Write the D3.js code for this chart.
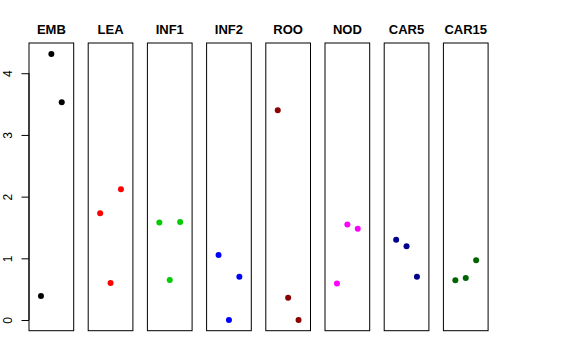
<!DOCTYPE html>
<html><head><meta charset="utf-8">
<script src="https://cdn.jsdelivr.net/npm/d3@7"></script>
<style>body{margin:0;background:#fff}svg{display:block}text{font-family:"Liberation Sans",Arial,sans-serif}</style>
</head><body>
<script>
const categories = ["EMB","LEA","INF1","INF2","ROO","NOD","CAR5","CAR15"];
const colors = ["#000000","#FF0000","#00CD00","#0000FF","#8B0000","#FF00FF","#00008B","#006400"];
const pointIndex = [1,2,3];
const valuesEMB = [0.39, 4.31, 3.53];
const valuesLEA = [1.73, 0.60, 2.12];
const valuesINF1 = [1.58, 0.65, 1.59];
const valuesINF2 = [1.055, 0.0, 0.70];
const valuesROO = [3.40, 0.36, 0.0];
const valuesNOD = [0.59, 1.55, 1.48];
const valuesCAR5 = [1.30, 1.195, 0.70];
const valuesCAR15 = [0.646, 0.68, 0.97];
const yTicks = [0,1,2,3,4];

const series = [valuesEMB,valuesLEA,valuesINF1,valuesINF2,valuesROO,valuesNOD,valuesCAR5,valuesCAR15];

const W = 576, H = 360;
const svg = d3.select("body").append("svg").attr("width",W).attr("height",H);

const x = d3.scaleBand().domain(categories).range([29, 488.1]).paddingInner(0.245).paddingOuter(0);
const y = d3.scaleLinear().domain([-0.173, 4.49]).range([330.7, 43]);
const xi = d3.scaleLinear().domain([-0.15, 4.15]).range([0, x.bandwidth()]);

categories.forEach((c, i) => {
  const g = svg.append("g").attr("transform", `translate(${x(c)},0)`);
  g.selectAll("circle").data(series[i]).join("circle")
    .attr("cx", (d, j) => xi(pointIndex[j]))
    .attr("cy", d => y(d))
    .attr("r", 3)
    .attr("fill", colors[i]);
  g.append("rect")
    .attr("x", 0).attr("y", y.range()[1])
    .attr("width", x.bandwidth()).attr("height", y.range()[0] - y.range()[1])
    .attr("fill", "none").attr("stroke", "#000").attr("stroke-width", 1);
  g.append("text")
    .attr("x", x.bandwidth()/2).attr("y", 34.2)
    .attr("text-anchor", "middle")
    .attr("font-weight", "bold").attr("font-size", 13)
    .text(c);
});

const axis = d3.axisLeft(y).tickValues(yTicks).tickSize(7.5).tickFormat(d3.format("d"));
const ag = svg.append("g").attr("transform", `translate(${x(categories[0])},0)`).call(axis);
ag.select(".domain").attr("d", `M0,${y(0)}V${y(4)}`).attr("stroke","#000");
ag.selectAll(".tick line").attr("stroke","#000");
ag.selectAll(".tick text")
  .attr("font-size", 12).attr("font-family", "Liberation Sans, Arial, sans-serif")
  .attr("fill","#000")
  .attr("text-anchor", "middle")
  .attr("x", 0).attr("y", 0).attr("dy", 0)
  .attr("transform", "translate(-17,0) rotate(-90)");
</script>
</body></html>
